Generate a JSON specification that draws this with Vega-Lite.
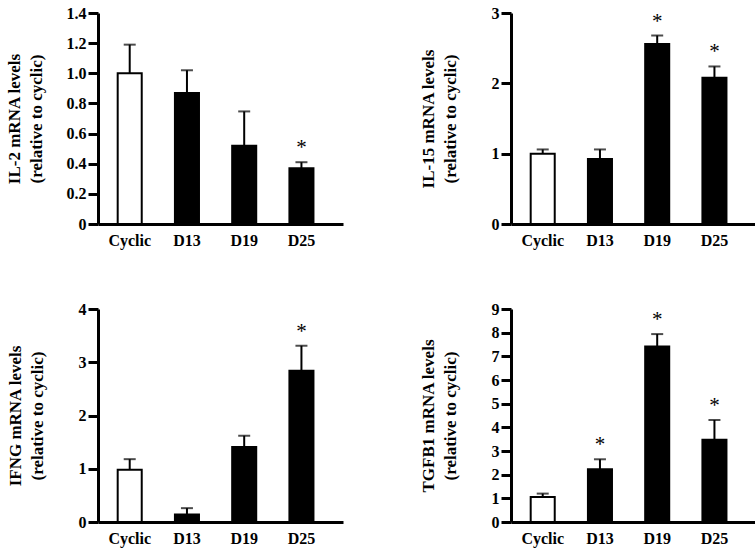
{
  "$schema": "https://vega.github.io/schema/vega-lite/v6.json",
  "background": "white",
  "padding": 5,
  "data": {"values": [
    {"gene": "IL-2", "group": "Cyclic", "value": 1.0, "err": 1.19, "sig": ""},
    {"gene": "IL-2", "group": "D13", "value": 0.87, "err": 1.02, "sig": ""},
    {"gene": "IL-2", "group": "D19", "value": 0.52, "err": 0.747, "sig": ""},
    {"gene": "IL-2", "group": "D25", "value": 0.37, "err": 0.41, "sig": "*"},
    {"gene": "IL-15", "group": "Cyclic", "value": 1.0, "err": 1.06, "sig": ""},
    {"gene": "IL-15", "group": "D13", "value": 0.925, "err": 1.06, "sig": ""},
    {"gene": "IL-15", "group": "D19", "value": 2.56, "err": 2.68, "sig": "*"},
    {"gene": "IL-15", "group": "D25", "value": 2.08, "err": 2.24, "sig": "*"},
    {"gene": "IFNG", "group": "Cyclic", "value": 0.98, "err": 1.18, "sig": ""},
    {"gene": "IFNG", "group": "D13", "value": 0.14, "err": 0.26, "sig": ""},
    {"gene": "IFNG", "group": "D19", "value": 1.41, "err": 1.62, "sig": ""},
    {"gene": "IFNG", "group": "D25", "value": 2.84, "err": 3.31, "sig": "*"},
    {"gene": "TGFB1", "group": "Cyclic", "value": 1.06, "err": 1.2, "sig": ""},
    {"gene": "TGFB1", "group": "D13", "value": 2.23, "err": 2.65, "sig": "*"},
    {"gene": "TGFB1", "group": "D19", "value": 7.42, "err": 7.94, "sig": "*"},
    {"gene": "TGFB1", "group": "D25", "value": 3.48, "err": 4.31, "sig": "*"}
  ]},
  "columns": 2,
  "spacing": {"row": 53, "column": 76},
  "concat": [
    {
      "width": 245, "height": 211,
      "transform": [{"filter": "datum.gene == 'IL-2'"}],
      "encoding": {"x": {"field": "group", "type": "nominal", "sort": ["Cyclic", "D13", "D19", "D25"], "scale": {"paddingInner": 0.58, "paddingOuter": 0.43, "align": 0.4}, "axis": {"title": null, "labelAngle": 0, "ticks": false, "labelPadding": 8}}},
      "layer": [
        {"mark": {"type": "rule", "color": "black", "strokeWidth": 2}, "encoding": {"y": {"field": "value", "type": "quantitative", "scale": {"domain": [0, 1.4]}, "axis": {"title": ["IL-2 mRNA levels", "(relative to cyclic)"], "values": [0, 0.2, 0.4, 0.6, 0.8, 1.0, 1.2, 1.4], "labelExpr": "datum.value == 0 ? '0' : format(datum.value, '.1f')", "titlePadding": 21}}, "y2": {"field": "err"}}},
        {"mark": {"type": "tick", "color": "black", "thickness": 2, "size": 12}, "encoding": {"y": {"field": "err", "type": "quantitative", "scale": {"domain": [0, 1.4]}, "axis": {"title": ["IL-2 mRNA levels", "(relative to cyclic)"], "values": [0, 0.2, 0.4, 0.6, 0.8, 1.0, 1.2, 1.4], "labelExpr": "datum.value == 0 ? '0' : format(datum.value, '.1f')", "titlePadding": 21}}}},
        {"mark": {"type": "bar", "stroke": "black", "strokeWidth": 2}, "encoding": {"y": {"field": "value", "type": "quantitative", "scale": {"domain": [0, 1.4]}, "axis": {"title": ["IL-2 mRNA levels", "(relative to cyclic)"], "values": [0, 0.2, 0.4, 0.6, 0.8, 1.0, 1.2, 1.4], "labelExpr": "datum.value == 0 ? '0' : format(datum.value, '.1f')", "titlePadding": 21}}, "fill": {"field": "group", "type": "nominal", "scale": {"domain": ["Cyclic", "D13", "D19", "D25"], "range": ["white", "black", "black", "black"]}, "legend": null}}},
        {"mark": {"type": "text", "font": "Liberation Serif", "fontSize": 21, "baseline": "bottom", "dy": -4, "color": "black"}, "encoding": {"y": {"field": "err", "type": "quantitative", "scale": {"domain": [0, 1.4]}, "axis": {"title": ["IL-2 mRNA levels", "(relative to cyclic)"], "values": [0, 0.2, 0.4, 0.6, 0.8, 1.0, 1.2, 1.4], "labelExpr": "datum.value == 0 ? '0' : format(datum.value, '.1f')", "titlePadding": 21}}, "text": {"field": "sig"}}}
      ]
    },
    {
      "width": 245, "height": 211,
      "transform": [{"filter": "datum.gene == 'IL-15'"}],
      "encoding": {"x": {"field": "group", "type": "nominal", "sort": ["Cyclic", "D13", "D19", "D25"], "scale": {"paddingInner": 0.58, "paddingOuter": 0.43, "align": 0.4}, "axis": {"title": null, "labelAngle": 0, "ticks": false, "labelPadding": 8}}},
      "layer": [
        {"mark": {"type": "rule", "color": "black", "strokeWidth": 2}, "encoding": {"y": {"field": "value", "type": "quantitative", "scale": {"domain": [0, 3]}, "axis": {"title": ["IL-15 mRNA levels", "(relative to cyclic)"], "values": [0, 1, 2, 3], "format": "d", "titlePadding": 32}}, "y2": {"field": "err"}}},
        {"mark": {"type": "tick", "color": "black", "thickness": 2, "size": 12}, "encoding": {"y": {"field": "err", "type": "quantitative", "scale": {"domain": [0, 3]}, "axis": {"title": ["IL-15 mRNA levels", "(relative to cyclic)"], "values": [0, 1, 2, 3], "format": "d", "titlePadding": 32}}}},
        {"mark": {"type": "bar", "stroke": "black", "strokeWidth": 2}, "encoding": {"y": {"field": "value", "type": "quantitative", "scale": {"domain": [0, 3]}, "axis": {"title": ["IL-15 mRNA levels", "(relative to cyclic)"], "values": [0, 1, 2, 3], "format": "d", "titlePadding": 32}}, "fill": {"field": "group", "type": "nominal", "scale": {"domain": ["Cyclic", "D13", "D19", "D25"], "range": ["white", "black", "black", "black"]}, "legend": null}}},
        {"mark": {"type": "text", "font": "Liberation Serif", "fontSize": 21, "baseline": "bottom", "dy": -4, "color": "black"}, "encoding": {"y": {"field": "err", "type": "quantitative", "scale": {"domain": [0, 3]}, "axis": {"title": ["IL-15 mRNA levels", "(relative to cyclic)"], "values": [0, 1, 2, 3], "format": "d", "titlePadding": 32}}, "text": {"field": "sig"}}}
      ]
    },
    {
      "width": 245, "height": 213,
      "transform": [{"filter": "datum.gene == 'IFNG'"}],
      "encoding": {"x": {"field": "group", "type": "nominal", "sort": ["Cyclic", "D13", "D19", "D25"], "scale": {"paddingInner": 0.58, "paddingOuter": 0.43, "align": 0.4}, "axis": {"title": null, "labelAngle": 0, "ticks": false, "labelPadding": 8}}},
      "layer": [
        {"mark": {"type": "rule", "color": "black", "strokeWidth": 2}, "encoding": {"y": {"field": "value", "type": "quantitative", "scale": {"domain": [0, 4]}, "axis": {"title": ["IFNG mRNA levels", "(relative to cyclic)"], "values": [0, 1, 2, 3, 4], "format": "d", "titlePadding": 32}}, "y2": {"field": "err"}}},
        {"mark": {"type": "tick", "color": "black", "thickness": 2, "size": 12}, "encoding": {"y": {"field": "err", "type": "quantitative", "scale": {"domain": [0, 4]}, "axis": {"title": ["IFNG mRNA levels", "(relative to cyclic)"], "values": [0, 1, 2, 3, 4], "format": "d", "titlePadding": 32}}}},
        {"mark": {"type": "bar", "stroke": "black", "strokeWidth": 2}, "encoding": {"y": {"field": "value", "type": "quantitative", "scale": {"domain": [0, 4]}, "axis": {"title": ["IFNG mRNA levels", "(relative to cyclic)"], "values": [0, 1, 2, 3, 4], "format": "d", "titlePadding": 32}}, "fill": {"field": "group", "type": "nominal", "scale": {"domain": ["Cyclic", "D13", "D19", "D25"], "range": ["white", "black", "black", "black"]}, "legend": null}}},
        {"mark": {"type": "text", "font": "Liberation Serif", "fontSize": 21, "baseline": "bottom", "dy": -4, "color": "black"}, "encoding": {"y": {"field": "err", "type": "quantitative", "scale": {"domain": [0, 4]}, "axis": {"title": ["IFNG mRNA levels", "(relative to cyclic)"], "values": [0, 1, 2, 3, 4], "format": "d", "titlePadding": 32}}, "text": {"field": "sig"}}}
      ]
    },
    {
      "width": 245, "height": 213,
      "transform": [{"filter": "datum.gene == 'TGFB1'"}],
      "encoding": {"x": {"field": "group", "type": "nominal", "sort": ["Cyclic", "D13", "D19", "D25"], "scale": {"paddingInner": 0.58, "paddingOuter": 0.43, "align": 0.4}, "axis": {"title": null, "labelAngle": 0, "ticks": false, "labelPadding": 8}}},
      "layer": [
        {"mark": {"type": "rule", "color": "black", "strokeWidth": 2}, "encoding": {"y": {"field": "value", "type": "quantitative", "scale": {"domain": [0, 9]}, "axis": {"title": ["TGFB1 mRNA levels", "(relative to cyclic)"], "values": [0, 1, 2, 3, 4, 5, 6, 7, 8, 9], "format": "d", "titlePadding": 32}}, "y2": {"field": "err"}}},
        {"mark": {"type": "tick", "color": "black", "thickness": 2, "size": 12}, "encoding": {"y": {"field": "err", "type": "quantitative", "scale": {"domain": [0, 9]}, "axis": {"title": ["TGFB1 mRNA levels", "(relative to cyclic)"], "values": [0, 1, 2, 3, 4, 5, 6, 7, 8, 9], "format": "d", "titlePadding": 32}}}},
        {"mark": {"type": "bar", "stroke": "black", "strokeWidth": 2}, "encoding": {"y": {"field": "value", "type": "quantitative", "scale": {"domain": [0, 9]}, "axis": {"title": ["TGFB1 mRNA levels", "(relative to cyclic)"], "values": [0, 1, 2, 3, 4, 5, 6, 7, 8, 9], "format": "d", "titlePadding": 32}}, "fill": {"field": "group", "type": "nominal", "scale": {"domain": ["Cyclic", "D13", "D19", "D25"], "range": ["white", "black", "black", "black"]}, "legend": null}}},
        {"mark": {"type": "text", "font": "Liberation Serif", "fontSize": 21, "baseline": "bottom", "dy": -4, "color": "black"}, "encoding": {"y": {"field": "err", "type": "quantitative", "scale": {"domain": [0, 9]}, "axis": {"title": ["TGFB1 mRNA levels", "(relative to cyclic)"], "values": [0, 1, 2, 3, 4, 5, 6, 7, 8, 9], "format": "d", "titlePadding": 32}}, "text": {"field": "sig"}}}
      ]
    }
  ],
  "config": {
    "view": {"stroke": null},
    "axis": {
      "grid": false,
      "domainColor": "black", "domainWidth": 3,
      "tickColor": "black", "tickWidth": 3, "tickSize": 10,
      "labelFont": "Liberation Serif", "labelFontWeight": "bold", "labelFontSize": 16, "labelColor": "black", "labelPadding": 2,
      "titleFont": "Liberation Serif", "titleFontWeight": "bold", "titleFontSize": 17, "titleColor": "black", "titleLineHeight": 22
    }
  }
}
